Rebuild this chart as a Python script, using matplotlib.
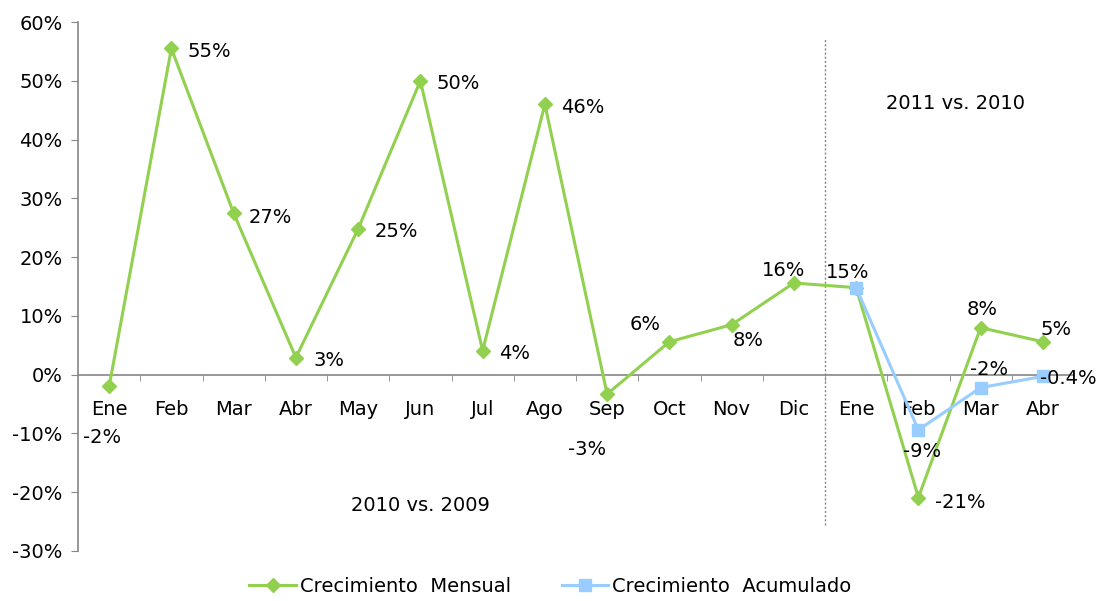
import numpy as np
import matplotlib.pyplot as plt
from matplotlib.ticker import FuncFormatter

# data ---------------------------------------------------------------
months = ["Ene", "Feb", "Mar", "Abr", "May", "Jun", "Jul", "Ago",
          "Sep", "Oct", "Nov", "Dic", "Ene", "Feb", "Mar", "Abr"]
mensual = [-2.0, 55.5, 27.5, 2.9, 24.8, 50.0, 4.1, 46.0,
           -3.3, 5.6, 8.5, 15.6, 14.8, -20.9, 8.0, 5.6]
mensual_labels = ["-2%", "55%", "27%", "3%", "25%", "50%", "4%", "46%",
                  "-3%", "6%", "8%", "16%", "", "-21%", "8%", "5%"]
acum_idx = [12, 13, 14, 15]
acumulado = [14.8, -9.4, -2.2, -0.3]
acum_labels = ["15%", "-9%", "-2%", "-0.4%"]

# label offsets in pixels (dx, dy) relative to each point
mensual_off = [(-7, -51), (38, -3), (37, -4), (33, -3), (38, -3), (38, -3), (32, -3), (38, -3),
               (-20, -55), (-24, 17), (16, -16), (-10, 12), (0, 0), (42, -5), (2, 18), (13, 12)]
acum_off = [(-8, 15), (4, -22), (8, 18), (25, -2)]

green = "#92D050"
blue = "#99CCFF"
axis_gray = "#868686"
fs = 14

fig = plt.figure(figsize=(11.01, 6.01), dpi=100)
ax = fig.add_axes([78 / 1101, 50 / 601, 996 / 1101, 529 / 601])

x = np.arange(len(months))
ax.plot(x, mensual, color=green, lw=2.2, marker="D", ms=7, mec=green, mfc=green,
        label="Crecimiento  Mensual", zorder=3)
ax.plot(acum_idx, acumulado, color=blue, lw=2.2, marker="s", ms=8.5, mec=blue, mfc=blue,
        label="Crecimiento  Acumulado", zorder=4)

for xi, yi, lab, (dx, dy) in zip(x, mensual, mensual_labels, mensual_off):
    if lab:
        ax.annotate(lab, (xi, yi), xytext=(dx * 0.72, dy * 0.72), textcoords="offset points",
                    ha="center", va="center", fontsize=fs, zorder=5)
for xi, yi, lab, (dx, dy) in zip(acum_idx, acumulado, acum_labels, acum_off):
    ax.annotate(lab, (xi, yi), xytext=(dx * 0.72, dy * 0.72), textcoords="offset points",
                ha="center", va="center", fontsize=fs, zorder=5)

ax.vlines(11.5, -25.5, 57.3, colors=axis_gray, linestyles=(0, (1.5, 1.5)), lw=1)

ax.text(5.0, -22.2, "2010 vs. 2009", ha="center", va="center", fontsize=fs)
ax.text(13.6, 46.1, "2011 vs. 2010", ha="center", va="center", fontsize=fs)

ax.set_xlim(-0.5, 15.5)
ax.set_ylim(-30, 60)
ax.set_yticks(np.arange(-30, 61, 10))
ax.yaxis.set_major_formatter(FuncFormatter(lambda v, p: f"{v:.0f}%"))

ax.spines["bottom"].set_position(("data", 0))
ax.spines["top"].set_visible(False)
ax.spines["right"].set_visible(False)
for s in ["left", "bottom"]:
    ax.spines[s].set_color(axis_gray)
    ax.spines[s].set_linewidth(1.2)

ax.set_xticks(x)
ax.set_xticklabels(months)
ax.set_xticks(np.arange(0.5, 15.5, 1), minor=True)
ax.tick_params(axis="x", which="major", length=0, pad=18, labelsize=fs)
ax.tick_params(axis="x", which="minor", length=4, direction="out", color=axis_gray)
ax.tick_params(axis="y", length=5, direction="out", color=axis_gray, labelsize=fs, pad=6)

fig.legend(loc="lower center", bbox_to_anchor=(0.5, -0.02), ncol=2, frameon=False,
           fontsize=fs, handlelength=2.4, columnspacing=2.6, handletextpad=0.2)

fig.savefig("out.png", dpi=100)
